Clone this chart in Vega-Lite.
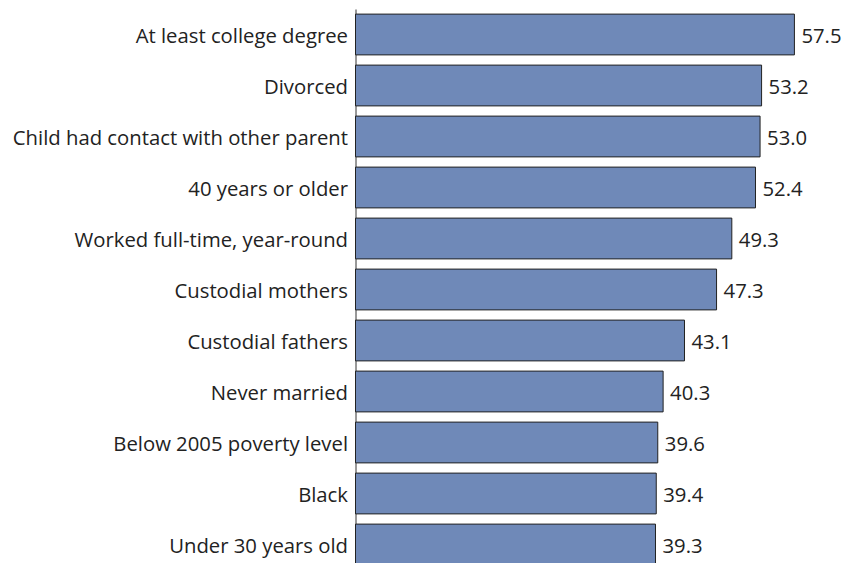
{
  "$schema": "https://vega.github.io/schema/vega-lite/v6.json",
  "width": 458,
  "height": 561,
  "autosize": "none",
  "padding": {"left": 355.5, "top": 9, "right": 40.5, "bottom": 0},
  "background": "white",
  "config": {"view": {"stroke": null}, "font": "Open Sans"},
  "data": {"values": [
    {"category": "At least college degree", "value": 57.5},
    {"category": "Divorced", "value": 53.2},
    {"category": "Child had contact with other parent", "value": 53.0},
    {"category": "40 years or older", "value": 52.4},
    {"category": "Worked full-time, year-round", "value": 49.3},
    {"category": "Custodial mothers", "value": 47.3},
    {"category": "Custodial fathers", "value": 43.1},
    {"category": "Never married", "value": 40.3},
    {"category": "Below 2005 poverty level", "value": 39.6},
    {"category": "Black", "value": 39.4},
    {"category": "Under 30 years old", "value": 39.3}
  ]},
  "encoding": {
    "y": {"field": "category", "type": "nominal", "sort": null,
      "scale": {"paddingInner": 0.2, "paddingOuter": 0.1},
      "axis": {"title": null, "ticks": false, "labelPadding": 8, "labelOffset": 2.5, "labelFontSize": 20.3, "labelColor": "#222", "labelFont": "Open Sans", "domainColor": "#333", "domainWidth": 1, "labelLimit": 400}},
    "x": {"field": "value", "type": "quantitative", "scale": {"domain": [0, 60], "nice": false}, "axis": null}
  },
  "layer": [
    {"mark": {"type": "bar", "color": "#6f89b8", "stroke": "#222", "strokeWidth": 1}},
    {"mark": {"type": "text", "align": "left", "dx": 7, "dy": 2.5, "fontSize": 20.3, "color": "#222", "font": "Open Sans"},
     "encoding": {"text": {"field": "value", "type": "quantitative", "format": ".1f"}}}
  ]
}
